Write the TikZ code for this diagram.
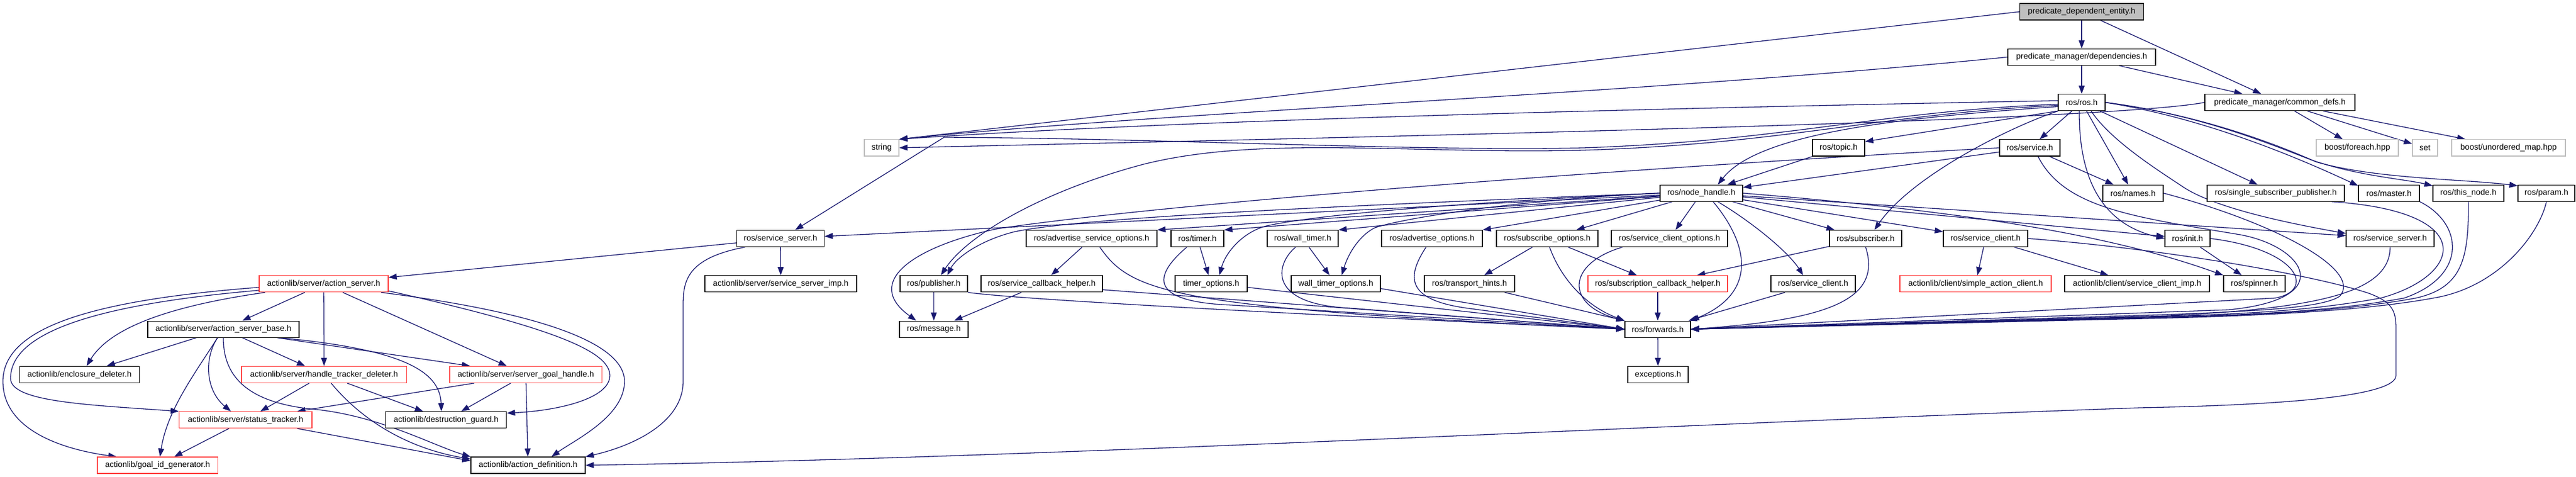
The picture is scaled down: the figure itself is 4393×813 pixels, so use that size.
\documentclass[tikz,border=0pt]{standalone}
\usepackage{fontspec}
\setmainfont{Liberation Sans}
\usetikzlibrary{arrows.meta}
\definecolor{edgecol}{HTML}{191970}
\definecolor{redb}{HTML}{FF4040}
\definecolor{grayb}{HTML}{BFBFBF}
\definecolor{pdefill}{HTML}{BFBFBF}
\pgfdeclarelayer{bgfill}
\pgfdeclarelayer{edges}
\pgfsetlayers{bgfill,edges,main}
\begin{document}
\begin{tikzpicture}[x=1pt,y=-1pt,
  box/.style={draw=black, fill=white, line width=1.2pt, inner xsep=0pt, inner ysep=0pt,
    minimum height=28pt, font=\fontsize{14pt}{16pt}\selectfont},
  redbox/.style={box, draw=redb},
  extbox/.style={box, draw=grayb},
  topbox/.style={box, fill=pdefill},
  edge/.style={draw=edgecol, line width=1.3pt, -{Triangle[length=14pt,width=10pt]}}]
\begin{pgfonlayer}{bgfill}
\fill[white] (0,0) rectangle (4393,813);
\end{pgfonlayer}
\useasboundingbox (0,0) rectangle (4393,813);
% row 0-2
\node[topbox, minimum width=211pt] (pde) at (3550,20) {predicate\_dependent\_entity.h};
\node[box, minimum width=252pt] (dep) at (3550,97.3) {predicate\_manager/dependencies.h};
\node[box, minimum width=80pt] (ros) at (3550,174.6) {ros/ros.h};
\node[box, minimum width=256pt] (cdefs) at (3888,174.6) {predicate\_manager/common\_defs.h};
% row 3
\node[extbox, minimum width=59pt] (string) at (1503.5,251.9) {string};
\node[box, minimum width=89pt] (topic) at (3135.5,251.9) {ros/topic.h};
\node[box, minimum width=103pt] (service) at (3461.5,251.9) {ros/service.h};
\node[extbox, minimum width=140pt] (foreach) at (4020,251.9) {boost/foreach.hpp};
\node[extbox, minimum width=43pt] (set) at (4135.5,251.9) {set};
\node[extbox, minimum width=194pt] (umap) at (4278,251.9) {boost/unordered\_map.hpp};
% row 4
\node[box, minimum width=141pt] (nh) at (2901.5,329.2) {ros/node\_handle.h};
\node[box, minimum width=103pt] (names) at (3637.5,329.2) {ros/names.h};
\node[box, minimum width=234pt] (ssp) at (3881,329.2) {ros/single\_subscriber\_publisher.h};
\node[box, minimum width=104pt] (master) at (4074,329.2) {ros/master.h};
\node[box, minimum width=121pt] (thisnode) at (4209.5,329.2) {ros/this\_node.h};
\node[box, minimum width=97pt] (param) at (4342.5,329.2) {ros/param.h};
% row 5
\node[box, minimum width=149pt] (ssL) at (1331,406.5) {ros/service\_server.h};
\node[box, minimum width=223pt] (aso) at (1861.5,406.5) {ros/advertise\_service\_options.h};
\node[box, minimum width=90pt] (timer) at (2042,406.5) {ros/timer.h};
\node[box, minimum width=121pt] (wtimer) at (2221.5,406.5) {ros/wall\_timer.h};
\node[box, minimum width=172pt] (adv) at (2442,406.5) {ros/advertise\_options.h};
\node[box, minimum width=173pt] (subopt) at (2638.5,406.5) {ros/subscribe\_options.h};
\node[box, minimum width=198pt] (sco) at (2847,406.5) {ros/service\_client\_options.h};
\node[box, minimum width=123pt] (subscriber) at (3181.5,406.5) {ros/subscriber.h};
\node[box, minimum width=144pt] (scA) at (3386,406.5) {ros/service\_client.h};
\node[box, minimum width=77pt] (init) at (3730.5,406.5) {ros/init.h};
\node[box, minimum width=150pt] (ssR) at (4076,406.5) {ros/service\_server.h};
% row 6
\node[redbox, minimum width=220pt] (as) at (552,483.8) {actionlib/server/action\_server.h};
\node[box, minimum width=259pt] (ssimp) at (1331.5,483.8) {actionlib/server/service\_server\_imp.h};
\node[box, minimum width=115pt] (pub) at (1592.5,483.8) {ros/publisher.h};
\node[box, minimum width=207pt] (sch) at (1776.5,483.8) {ros/service\_callback\_helper.h};
\node[box, minimum width=123pt] (topt) at (2065.5,483.8) {timer\_options.h};
\node[box, minimum width=152pt] (wtopt) at (2278,483.8) {wall\_timer\_options.h};
\node[box, minimum width=154pt] (th) at (2506,483.8) {ros/transport\_hints.h};
\node[redbox, minimum width=238pt] (subcb) at (2827,483.8) {ros/subscription\_callback\_helper.h};
\node[box, minimum width=144pt] (scB) at (3092,483.8) {ros/service\_client.h};
\node[redbox, minimum width=258pt] (sac) at (3369,483.8) {actionlib/client/simple\_action\_client.h};
\node[box, minimum width=247pt] (scimp) at (3644.5,483.8) {actionlib/client/service\_client\_imp.h};
\node[box, minimum width=105pt] (spinner) at (3844.5,483.8) {ros/spinner.h};
% row 7
\node[box, minimum width=258pt] (asb) at (381,561.1) {actionlib/server/action\_server\_base.h};
\node[box, minimum width=117pt] (msg) at (1592.5,561.1) {ros/message.h};
\node[box, minimum width=112pt] (fwd) at (2827,561.1) {ros/forwards.h};
% row 8
\node[box, minimum width=204pt] (encl) at (135.6,638.4) {actionlib/enclosure\_deleter.h};
\node[redbox, minimum width=281.5pt] (htd) at (552.7,638.4) {actionlib/server/handle\_tracker\_deleter.h};
\node[redbox, minimum width=259.5pt] (sgh) at (896.7,638.4) {actionlib/server/server\_goal\_handle.h};
\node[box, minimum width=103pt] (exc) at (2827.5,638.4) {exceptions.h};
% row 9-10
\node[redbox, minimum width=226.4pt] (st) at (418.8,715.7) {actionlib/server/status\_tracker.h};
\node[box, minimum width=206pt] (dg) at (760.8,715.7) {actionlib/destruction\_guard.h};
\node[redbox, minimum width=205.6pt] (gid) at (268.8,793) {actionlib/goal\_id\_generator.h};
\node[box, minimum width=195pt] (ad) at (900.5,793) {actionlib/action\_definition.h};

\begin{pgfonlayer}{edges}
% top
\draw[edge] (pde) -- (dep);
\draw[edge] (pde) -- (cdefs);
\draw[edge] (pde.west) -- (string.north east);
\draw[edge] (dep) -- (ros);
\draw[edge] (dep) -- (cdefs);
\draw[edge] (dep.west) .. controls (2800,160) and (2000,190) .. (string.north east);
\draw[edge] ([yshift=3pt]ros.west) .. controls (2800,185) and (2000,205) .. (string.north east);
\draw[edge] (cdefs.west) .. controls (3600,205) and (2500,230) .. (string.east);
\draw[edge] (cdefs) -- (foreach);
\draw[edge] (cdefs) -- (set);
\draw[edge] (cdefs) -- (umap);
% ros.h
\draw[edge] ([yshift=-3pt]ros.west) .. controls (3200,190) and (3050,240) .. (2700,252)
   .. controls (2400,258) and (2000,236) .. (1610,234) -- ([xshift=25pt]ssL.north);
\draw[edge] ([yshift=-7pt]ros.west) .. controls (3250,200) and (3000,225) .. ([xshift=28pt]nh.north);
\draw[edge] (ros.south west) -- ([yshift=-4pt]topic.north east);
\draw[edge] (ros) -- (service);
\draw[edge] ([xshift=-40pt]ros.south) .. controls (3430,215) and (3260,300) .. ([xshift=15pt]subscriber.north);
\draw[edge] (ros) -- (names);
\draw[edge] ([yshift=-5pt]ros.west) .. controls (3200,195) and (3050,245) .. (2700,256)
   .. controls (2400,263) and (2150,230) .. (1950,280) .. controls (1780,325) and (1650,400) .. ([xshift=12pt]pub.north);
\draw[edge] (ros) -- (ssp);
\draw[edge] (ros.east) .. controls (3750,200) and (3900,260) .. ([yshift=-2pt]master.north west);
\draw[edge] (ros.east) .. controls (3750,195) and (3870,245) .. (3940,272)
   .. controls (4020,300) and (4100,305) .. ([yshift=-2pt]thisnode.north west);
\draw[edge] (ros.east) .. controls (3750,195) and (3880,245) .. (3950,276)
   .. controls (4050,305) and (4200,305) .. ([yshift=-2pt]param.north west);
\draw[edge] ([xshift=16pt]ros.south) .. controls (3600,240) and (3680,290) .. (3725,320)
   .. controls (3780,355) and (3900,380) .. ([yshift=-6pt]ssR.north west);
\draw[edge] ([xshift=-4pt]ros.south) .. controls (3545,290) and (3575,380) .. (init.west);
% topic, service
\draw[edge] (topic) -- (nh);
\draw[edge] (service) -- (nh);
\draw[edge] (service) -- (names);
\draw[edge] (service.west) .. controls (2800,285) and (2000,345) .. (1700,390)
   .. controls (1560,420) and (1470,480) .. ([xshift=-30pt]msg.north);
\draw[edge] ([xshift=14pt]service.south) .. controls (3520,355) and (3640,370) .. (3820,400)
   .. controls (3930,420) and (3990,510) .. (3800,528) -- (fwd.east);
% node_handle
\draw[edge] (nh) -- (ssL);
\draw[edge] (nh) -- (aso.north east);
\draw[edge] (nh) -- (timer.north east);
\draw[edge] (nh) -- (wtimer.north east);
\draw[edge] (nh) -- (adv.north east);
\draw[edge] (nh) -- (subopt);
\draw[edge] (nh) -- (sco);
\draw[edge] (nh) -- (subscriber);
\draw[edge] (nh) -- (scA);
\draw[edge] ([xshift=28pt]nh.south) .. controls (2990,380) and (3050,430) .. ([xshift=-17pt]scB.north);
\draw[edge] ([xshift=20pt]nh.south) .. controls (2985,420) and (2995,500) .. (fwd.north east);
\draw[edge] (nh.west) .. controls (2300,350) and (1850,370) .. (1730,395)
   .. controls (1670,410) and (1630,440) .. ([xshift=23pt]pub.north);
\draw[edge] (nh.west) .. controls (2500,345) and (2250,365) .. (2160,385)
   .. controls (2120,395) and (2090,430) .. ([xshift=14pt]topt.north);
\draw[edge] (nh.west) .. controls (2600,340) and (2400,370) .. (2345,388)
   .. controls (2320,400) and (2300,430) .. ([xshift=10pt]wtopt.north);
\draw[edge] (nh) -- (init);
\draw[edge] (nh) -- (ssR);
\draw[edge] (nh.east) .. controls (3350,360) and (3600,400) .. (spinner.north west);
% subscriber, service clients
\draw[edge] (subscriber) -- (subcb);
\draw[edge] (subscriber.south) .. controls (3210,510) and (3120,545) .. (fwd.east);
\draw[edge] (scA) -- (sac);
\draw[edge] (scA) -- (scimp);
\draw[edge] (scA.east) .. controls (3700,425) and (3950,470) .. (4040,500)
   .. controls (4080,515) and (4086,530) .. (4086,560) -- (4086,640)
   .. controls (4086,675) and (3900,690) .. (3650,695)
   .. controls (2800,725) and (1800,780) .. (ad.east);
\draw[edge] ([xshift=-48pt]scB.south) -- ([xshift=-4pt]fwd.north east);
% right side into forwards
\draw[edge] (init) -- (spinner);
\draw[edge] (init.east) .. controls (3920,425) and (3950,495) .. (3880,508) -- (fwd.east);
\draw[edge] (names.east) .. controls (3880,380) and (4030,460) .. (3990,505)
   .. controls (3960,525) and (3850,530) .. (3700,536) -- (fwd.east);
\draw[edge] (ssR.south) .. controls (4076,500) and (3950,525) .. (3700,538) -- (fwd.east);
\draw[edge] ([xshift=95pt]ssp.south) .. controls (4230,360) and (4200,470) .. (4060,508)
   .. controls (3950,528) and (3850,534) .. (3700,539) -- (fwd.east);
\draw[edge] (master.south east) .. controls (4200,380) and (4210,470) .. (4100,508)
   .. controls (3980,530) and (3850,536) .. (3700,540) -- (fwd.east);
\draw[edge] (thisnode.south) .. controls (4210,440) and (4200,490) .. (4120,508)
   .. controls (4000,530) and (3850,537) .. (3700,541) -- (fwd.east);
\draw[edge] (param.south) .. controls (4330,400) and (4260,490) .. (4150,508)
   .. controls (4030,530) and (3850,538) .. (3700,542) -- (fwd.east);
% options into forwards
\draw[edge] (subcb) -- (fwd);
\draw[edge] (fwd) -- (exc);
\draw[edge] (subopt) -- (th);
\draw[edge] (subopt) -- (subcb);
\draw[edge] ([xshift=4pt]subopt.south) .. controls (2660,470) and (2700,520) .. (fwd.north west);
\draw[edge] ([xshift=-80pt]sco.south) .. controls (2670,450) and (2670,520) .. (fwd.north west);
\draw[edge] ([xshift=60pt]th.south) -- (fwd.north west);
\draw[edge] ([xshift=-10pt]adv.south) .. controls (2400,470) and (2395,510) .. (2500,525) -- (fwd.west);
\draw[edge] ([yshift=-8pt]wtopt.east) -- (fwd.west);
\draw[edge] (wtimer) -- (wtopt);
\draw[edge] ([xshift=-12pt]wtimer.south) .. controls (2175,450) and (2160,518) .. (2300,525) -- (fwd.west);
\draw[edge] (timer) -- (topt);
\draw[edge] ([yshift=-6pt]topt.east) -- (fwd.west);
\draw[edge] ([xshift=-18pt]timer.south) .. controls (1955,480) and (1975,515) .. (2100,520) -- (fwd.west);
\draw[edge] (aso) -- (sch);
\draw[edge] ([xshift=14pt]aso.south) .. controls (1930,500) and (2000,525) .. (fwd.west);
\draw[edge] (sch) -- (msg);
\draw[edge] ([yshift=-10pt]sch.east) -- (fwd.west);
\draw[edge] (pub) -- (msg);
\draw[edge] (pub.south east) .. controls (1750,512) and (2300,540) .. (fwd.west);
% actionlib part
\draw[edge] (ssL) -- (as);
\draw[edge] (ssL) -- (ssimp);
\draw[edge] ([xshift=-60pt]ssL.south) .. controls (1170,440) and (1165,480) .. (1165,520) -- (1165,650)
   .. controls (1165,720) and (1080,760) .. (ad.north east);
\draw[edge] (as) -- (asb);
\draw[edge] (as) -- (htd);
\draw[edge] ([xshift=-100pt]as.south) .. controls (300,520) and (190,555) .. ([xshift=12pt]encl.north);
\draw[edge] ([yshift=-11pt]as.west) .. controls (150,520) and (18,570) .. (18,645)
   .. controls (18,685) and (150,690) .. (st.north west);
\draw[edge] ([yshift=-6pt]as.west) .. controls (150,512) and (5,560) .. (5,650)
   .. controls (5,730) and (100,765) .. ([xshift=-70pt]gid.north);
\draw[edge] (as) -- (sgh);
\draw[edge] ([xshift=98pt]as.south) .. controls (900,530) and (1065,580) .. (1065,650)
   .. controls (1065,710) and (980,750) .. ([xshift=40pt]ad.north);
\draw[edge] ([yshift=-12pt]as.east) .. controls (950,560) and (1040,600) .. (1040,640)
   .. controls (1040,680) and (950,700) .. ([yshift=-3pt]dg.north east);
\draw[edge] (asb) -- (encl);
\draw[edge] (asb) -- (htd);
\draw[edge] ([xshift=-10pt]asb.south) .. controls (348,610) and (350,665) .. ([xshift=-25pt]st.north);
\draw[edge] ([xshift=-10pt]asb.south) .. controls (330,640) and (285,700) .. ([xshift=4pt]gid.north);
\draw[edge] (asb.south) .. controls (380,660) and (450,690) .. (540,698)
   .. controls (650,710) and (740,760) .. (ad.north west);
\draw[edge] ([xshift=92pt]asb.south) -- ([xshift=-95pt]sgh.north);
\draw[edge] ([xshift=97pt]asb.south) .. controls (680,595) and (750,630) .. ([xshift=-8pt]dg.north);
\draw[edge] (htd) -- (st);
\draw[edge] (htd) -- (dg);
\draw[edge] ([xshift=12pt]htd.south) .. controls (620,720) and (700,765) .. ([yshift=-4pt]ad.north west);
\draw[edge] ([xshift=-88pt]sgh.south) -- ([xshift=88pt]st.north);
\draw[edge] (sgh) -- (dg);
\draw[edge] (sgh) -- (ad);
\draw[edge] (st) -- (gid);
\draw[edge] ([xshift=88pt]st.south) -- ([yshift=-7pt]ad.north west);
\end{pgfonlayer}
\end{tikzpicture}
\end{document}
